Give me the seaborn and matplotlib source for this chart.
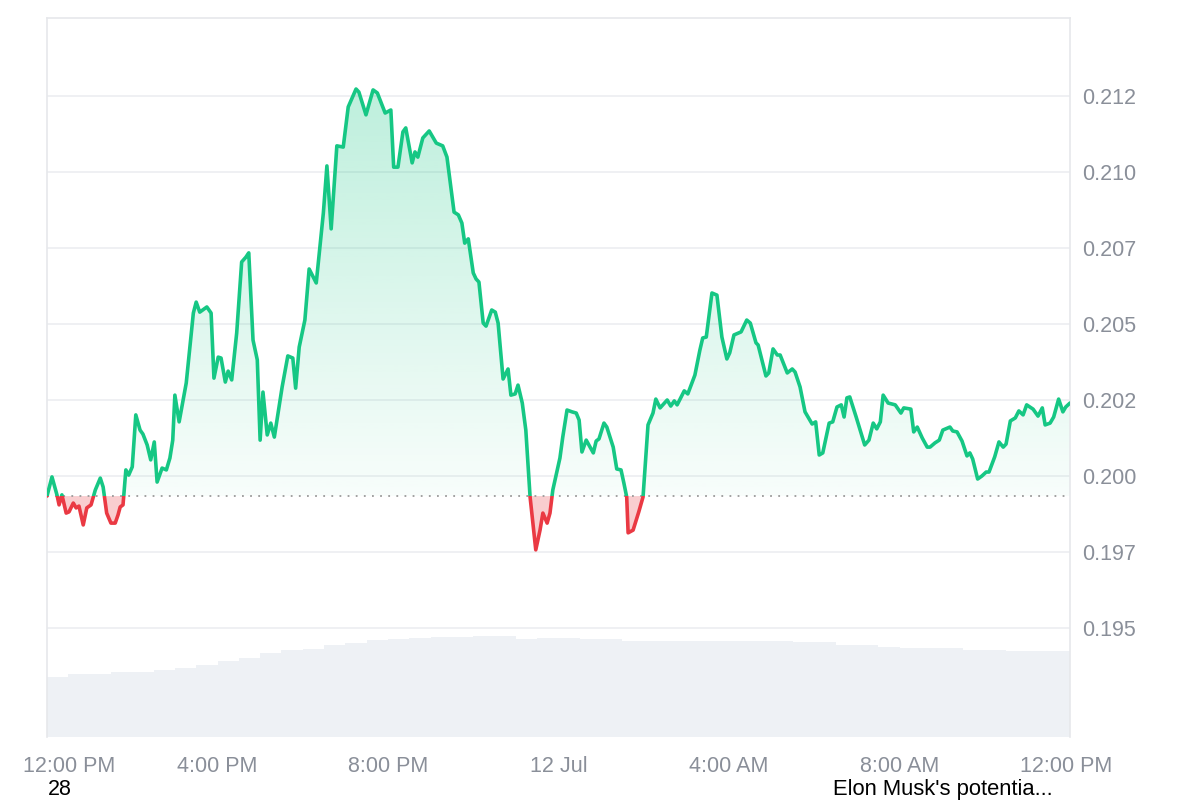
import numpy as np
import pandas as pd
import matplotlib
matplotlib.use("Agg")
import matplotlib.pyplot as plt
import matplotlib.transforms as mtransforms
from matplotlib.colors import to_rgb
from matplotlib.patches import Rectangle
import seaborn as sns

# minutes after 12:00 PM (11 Jul) and price in USD
minutes = [0, 7, 14, 17, 21, 27, 31, 37, 41, 45, 51, 56, 62, 68, 75, 79, 84, 90, 96, 100,
           103, 107, 111, 115, 120, 125, 131, 135, 141, 146, 151, 155, 162, 168, 173, 177, 180, 186, 196, 206,
           210, 215, 225, 231, 235, 241, 245, 251, 255, 260, 267, 274, 280, 284, 290, 296, 300, 304, 310, 315,
           320, 331, 339, 346, 350, 355, 363, 369, 379, 389, 394, 400, 408, 417, 424, 435, 439, 449, 459, 465,
           476, 484, 488, 494, 501, 505, 514, 518, 522, 529, 538, 548, 557, 563, 573, 579, 584, 588, 593, 600,
           604, 608, 614, 618, 626, 631, 635, 642, 649, 653, 659, 663, 669, 674, 680, 688, 694, 698, 704, 708,
           712, 722, 726, 732, 739, 745, 749, 753, 759, 769, 773, 777, 784, 788, 797, 802, 808, 812, 816, 818,
           825, 833, 839, 846, 853, 857, 863, 873, 878, 883, 887, 897, 902, 912, 919, 923, 928, 936, 943, 950,
           957, 961, 967, 977, 985, 990, 998, 1001, 1012, 1016, 1022, 1028, 1032, 1042, 1049, 1053, 1060, 1067, 1077, 1082,
           1087, 1092, 1101, 1106, 1112, 1118, 1122, 1126, 1130, 1139, 1146, 1151, 1157, 1163, 1168, 1173, 1177, 1184, 1194, 1202,
           1206, 1216, 1220, 1225, 1232, 1239, 1243, 1250, 1256, 1261, 1271, 1275, 1281, 1288, 1295, 1299, 1303, 1310, 1316, 1322,
           1326, 1334, 1340, 1346, 1350, 1356, 1363, 1368, 1374, 1379, 1388, 1395, 1401, 1405, 1412, 1417, 1424, 1430, 1434, 1440]
price = [0.19934, 0.19997, 0.19938, 0.19905, 0.19938, 0.19878, 0.19882, 0.19911, 0.19895, 0.19901,
         0.19839, 0.19895, 0.19905, 0.19954, 0.19993, 0.19964, 0.19878, 0.19845, 0.19845, 0.19872,
         0.19898, 0.19905, 0.20020, 0.20003, 0.20030, 0.20201, 0.20151, 0.20138, 0.20102, 0.20053,
         0.20112, 0.19980, 0.20026, 0.20020, 0.20059, 0.20118, 0.20266, 0.20178, 0.20306, 0.20536,
         0.20572, 0.20539, 0.20556, 0.20536, 0.20322, 0.20391, 0.20388, 0.20309, 0.20345, 0.20316,
         0.20470, 0.20704, 0.20720, 0.20734, 0.20447, 0.20382, 0.20118, 0.20276, 0.20135, 0.20174,
         0.20128, 0.20293, 0.20395, 0.20388, 0.20289, 0.20424, 0.20513, 0.20681, 0.20635, 0.20865,
         0.21020, 0.20813, 0.21086, 0.21082, 0.21214, 0.21273, 0.21263, 0.21188, 0.21270, 0.21260,
         0.21194, 0.21204, 0.21016, 0.21016, 0.21132, 0.21145, 0.21030, 0.21066, 0.21049, 0.21112,
         0.21135, 0.21095, 0.21086, 0.21049, 0.20868, 0.20859, 0.20832, 0.20766, 0.20780, 0.20668,
         0.20648, 0.20638, 0.20503, 0.20493, 0.20546, 0.20539, 0.20503, 0.20319, 0.20352, 0.20266,
         0.20270, 0.20299, 0.20240, 0.20151, 0.19931, 0.19757, 0.19822, 0.19878, 0.19845, 0.19878,
         0.19954, 0.20059, 0.20128, 0.20217, 0.20211, 0.20207, 0.20184, 0.20079, 0.20118, 0.20076,
         0.20115, 0.20122, 0.20174, 0.20161, 0.20095, 0.20023, 0.20020, 0.19977, 0.19931, 0.19813,
         0.19822, 0.19882, 0.19931, 0.20168, 0.20207, 0.20253, 0.20224, 0.20250, 0.20230, 0.20247,
         0.20234, 0.20280, 0.20270, 0.20332, 0.20414, 0.20454, 0.20457, 0.20602, 0.20595, 0.20457,
         0.20385, 0.20405, 0.20464, 0.20474, 0.20513, 0.20503, 0.20438, 0.20431, 0.20329, 0.20339,
         0.20418, 0.20398, 0.20398, 0.20339, 0.20352, 0.20342, 0.20293, 0.20211, 0.20171, 0.20178,
         0.20069, 0.20076, 0.20174, 0.20178, 0.20227, 0.20234, 0.20194, 0.20257, 0.20260, 0.20194,
         0.20141, 0.20102, 0.20118, 0.20174, 0.20155, 0.20178, 0.20266, 0.20240, 0.20234, 0.20207,
         0.20224, 0.20220, 0.20145, 0.20161, 0.20125, 0.20095, 0.20095, 0.20109, 0.20118, 0.20151,
         0.20161, 0.20148, 0.20145, 0.20115, 0.20066, 0.20076, 0.20056, 0.19990, 0.20000, 0.20013,
         0.20013, 0.20063, 0.20112, 0.20095, 0.20105, 0.20181, 0.20191, 0.20214, 0.20201, 0.20234,
         0.20220, 0.20197, 0.20224, 0.20168, 0.20174, 0.20194, 0.20253, 0.20211, 0.20227, 0.20240]
open_price = 0.19934

# 24h volume, one value per 30 minutes (millions USD)
vol_minutes = list(range(0, 1440, 30))
volume = [600, 630, 630, 650, 650, 670, 690, 720, 760, 790, 840, 870, 880, 920, 940, 970,
          980, 990, 1000, 1000, 1010, 1010, 980, 990, 990, 980, 980, 960, 960, 960, 960, 960,
          960, 960, 960, 950, 950, 920, 920, 900, 890, 890, 890, 870, 870, 860, 860, 860]

y_ticks = [0.195, 0.1975, 0.2, 0.2025, 0.205, 0.2075, 0.21, 0.2125]
y_labels = ["0.195", "0.197", "0.200", "0.202", "0.205", "0.207", "0.210", "0.212"]
x_ticks = [0, 240, 480, 720, 960, 1200, 1440]
x_labels = ["12:00 PM", "4:00 PM", "8:00 PM", "12 Jul", "4:00 AM", "8:00 AM", "12:00 PM"]

GREEN = "#16c784"
RED = "#ea3943"
GRAY = "#8a8f99"

sns.set_theme(style="white")
plt.rcParams['font.family'] = ['Liberation Sans', 'DejaVu Sans']

df = pd.DataFrame({"minute": minutes, "price": price})

fig = plt.figure(figsize=(12, 8), dpi=100)
ax_vol = fig.add_axes([47 / 1200, 63 / 800, 1023 / 1200, 719 / 800])
ax = ax_vol.twinx()

# volume bars in the background
ax_vol.bar(vol_minutes, volume, width=30, align="edge", color="#eef1f5", linewidth=0)
ax_vol.set_ylim(0, 7190)
ax_vol.set_yticks([])
ax_vol.set_xlim(0, 1440)
for s in ax_vol.spines.values():
    s.set_visible(False)

ymin, ymax = 0.191414, 0.215066

# gradient fill above the opening price
grad = np.zeros((256, 1, 4))
grad[..., :3] = to_rgb(GREEN)
grad[..., 3] = np.linspace(0.28, 0.03, 256)[:, None]
im = ax.imshow(grad, aspect="auto", origin="upper", zorder=1,
               extent=[0, 1440, open_price, max(price)])
clip = ax.fill_between(minutes, price, open_price, color="none", linewidth=0)
im.set_clip_path(clip.get_paths()[0], transform=ax.transData)

# red fill below the opening price
p = np.array(price)
ax.fill_between(minutes, price, open_price, where=p < open_price, interpolate=True,
                color=RED, alpha=0.25, linewidth=0, zorder=1)

# baseline
ax.axhline(open_price, color="#9a9a9a", linestyle=(0, (1, 3.5)), linewidth=1.3, zorder=2)

# price line, green above open, red below
sns.lineplot(data=df, x="minute", y="price", ax=ax, color=GREEN, linewidth=2.6, zorder=3)
sns.lineplot(data=df, x="minute", y="price", ax=ax, color=RED, linewidth=2.6, zorder=3)
up, down = ax.lines[-2], ax.lines[-1]
up.set_clip_path(Rectangle((0, open_price), 1440, 0.1, transform=ax.transData))
down.set_clip_path(Rectangle((0, 0.1), 1440, open_price - 0.1, transform=ax.transData))
for ln in (up, down):
    ln.set_solid_joinstyle("round")
    ln.set_solid_capstyle("round")

ax.set_xlim(0, 1440)
ax.set_ylim(ymin, ymax)
ax.set_xlabel("")
ax.set_ylabel("")
ax.set_yticks(y_ticks)
ax.set_yticklabels(y_labels)
ax.grid(axis="y", color="#eceef1", linewidth=1.2)
ax.grid(axis="x", visible=False)
ax.tick_params(axis="y", length=0, pad=9, labelsize=15.5, labelcolor=GRAY)
for side in ("left", "right", "top"):
    ax.spines[side].set_color("#e6e8eb")
    ax.spines[side].set_linewidth(1.2)
ax.spines["bottom"].set_visible(False)

ax_vol.set_xticks(x_ticks)
ax_vol.set_xticklabels(x_labels)
ax_vol.tick_params(axis="x", length=0, pad=13.5, labelsize=15.5, labelcolor=GRAY)
first = ax_vol.get_xticklabels()[0]
first.set_transform(first.get_transform() +
                    mtransforms.ScaledTranslation(22 / 100, 0, fig.dpi_scale_trans))
last = ax_vol.get_xticklabels()[-1]
last.set_transform(last.get_transform() +
                   mtransforms.ScaledTranslation(-4 / 100, 0, fig.dpi_scale_trans))

fig.text(48 / 1200, 1 - 795 / 800, "28", fontsize=15.5, color="black", va="baseline")
fig.text(833 / 1200, 1 - 795 / 800, "Elon Musk's potentia...", fontsize=15.8,
         color="black", va="baseline")

fig.savefig("out.png", dpi=100)
